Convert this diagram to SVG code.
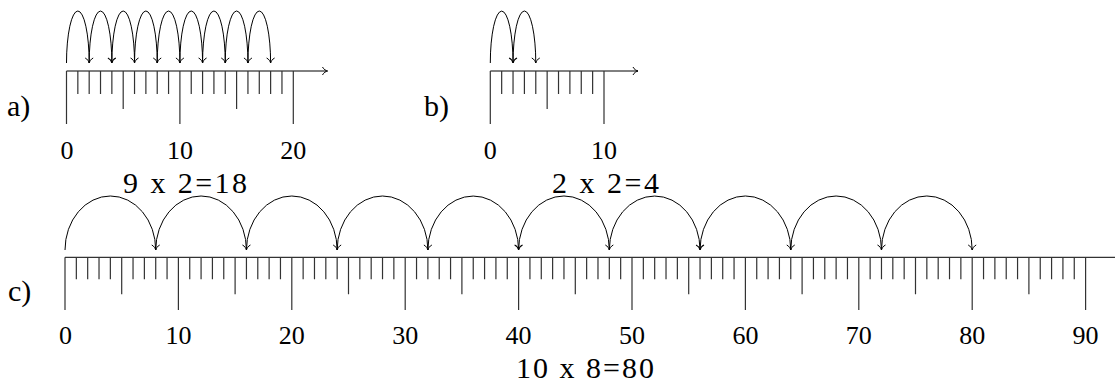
<svg xmlns="http://www.w3.org/2000/svg" width="1115" height="382" viewBox="0 0 1115 382">
<style>
.ax{fill:none;stroke:#000;stroke-width:1}
.tk{fill:none;stroke:#333;stroke-width:1.2}
.arc{fill:none;stroke:#000;stroke-width:1;marker-end:url(#ah)}
.lbl{font-family:"Liberation Serif","DejaVu Serif",serif;font-size:30px;fill:#000}
.num{font-family:"Liberation Serif","DejaVu Serif",serif;font-size:26px;fill:#000;text-anchor:middle}
.cap{font-family:"Liberation Serif","DejaVu Serif",serif;font-size:30px;fill:#000}
</style>
<defs>
<marker id="ah" markerUnits="userSpaceOnUse" markerWidth="12" markerHeight="12" viewBox="-6 -6 12 12" refX="0" refY="0" orient="auto" overflow="visible">
<path d="M-5,-4 C-4,-1.6 -1.2,-0.3 0,0 C-1.2,0.3 -4,1.6 -5,4" fill="none" stroke="#000" stroke-width="1"/>
</marker>
</defs>
<rect width="1115" height="382" fill="#fff"/>

<g id="part-a">
<path class="ax" d="M66.5 71 H327.5" marker-end="url(#ah)"/>
<path class="tk" d="M77.84 71V94M89.18 71V94M100.52 71V94M111.86 71V94M134.54 71V94M145.88 71V94M157.22 71V94M168.56 71V94M191.24 71V94M202.58 71V94M213.92 71V94M225.26 71V94M247.94 71V94M259.28 71V94M270.62 71V94M281.96 71V94"/>
<path class="tk" d="M123.2 71V109M236.6 71V109"/>
<path class="tk" d="M66.5 71V124M179.9 71V124M293.3 71V124"/>
<text class="lbl" x="7" y="116">a)</text>
<text class="num" x="67" y="159">0</text>
<text class="num" x="180" y="159">10</text>
<text class="num" x="293.3" y="159">20</text>
<text class="cap" x="123" y="193" textLength="124" lengthAdjust="spacing">9 x 2=18</text>
</g>

<g id="part-b">
<path class="ax" d="M490.3 71 H638" marker-end="url(#ah)"/>
<path class="tk" d="M501.67 71V94M513.04 71V94M524.41 71V94M535.78 71V94M558.52 71V94M569.89 71V94M581.26 71V94M592.63 71V94"/>
<path class="tk" d="M547.15 71V109"/>
<path class="tk" d="M490.3 71V124M604 71V124"/>
<text class="lbl" x="424" y="116">b)</text>
<text class="num" x="490.3" y="159">0</text>
<text class="num" x="604" y="159">10</text>
<text class="cap" x="552" y="193" textLength="107" lengthAdjust="spacing">2 x 2=4</text>
</g>

<g id="part-c">
<path class="ax" d="M65 257.3 H1115"/>
<path class="tk" d="M76.34 257.3V279.3M87.68 257.3V279.3M99.02 257.3V279.3M110.36 257.3V279.3M133.04 257.3V279.3M144.38 257.3V279.3M155.72 257.3V279.3M167.06 257.3V279.3M189.74 257.3V279.3M201.08 257.3V279.3M212.42 257.3V279.3M223.76 257.3V279.3M246.44 257.3V279.3M257.78 257.3V279.3M269.12 257.3V279.3M280.46 257.3V279.3M303.14 257.3V279.3M314.48 257.3V279.3M325.82 257.3V279.3M337.16 257.3V279.3M359.84 257.3V279.3M371.18 257.3V279.3M382.52 257.3V279.3M393.86 257.3V279.3M416.54 257.3V279.3M427.88 257.3V279.3M439.22 257.3V279.3M450.56 257.3V279.3M473.24 257.3V279.3M484.58 257.3V279.3M495.92 257.3V279.3M507.26 257.3V279.3M529.94 257.3V279.3M541.28 257.3V279.3M552.62 257.3V279.3M563.96 257.3V279.3M586.64 257.3V279.3M597.98 257.3V279.3M609.32 257.3V279.3M620.66 257.3V279.3M643.34 257.3V279.3M654.68 257.3V279.3M666.02 257.3V279.3M677.36 257.3V279.3M700.04 257.3V279.3M711.38 257.3V279.3M722.72 257.3V279.3M734.06 257.3V279.3M756.74 257.3V279.3M768.08 257.3V279.3M779.42 257.3V279.3M790.76 257.3V279.3M813.44 257.3V279.3M824.78 257.3V279.3M836.12 257.3V279.3M847.46 257.3V279.3M870.14 257.3V279.3M881.48 257.3V279.3M892.82 257.3V279.3M904.16 257.3V279.3M926.84 257.3V279.3M938.18 257.3V279.3M949.52 257.3V279.3M960.86 257.3V279.3M983.54 257.3V279.3M994.88 257.3V279.3M1006.22 257.3V279.3M1017.56 257.3V279.3M1040.24 257.3V279.3M1051.58 257.3V279.3M1062.92 257.3V279.3M1074.26 257.3V279.3"/>
<path class="tk" d="M121.7 257.3V294.3M235.1 257.3V294.3M348.5 257.3V294.3M461.9 257.3V294.3M575.3 257.3V294.3M688.7 257.3V294.3M802.1 257.3V294.3M915.5 257.3V294.3M1028.9 257.3V294.3"/>
<path class="tk" d="M65 257.3V310M178.4 257.3V310M291.8 257.3V310M405.2 257.3V310M518.6 257.3V310M632 257.3V310M745.4 257.3V310M858.8 257.3V310M972.2 257.3V310M1085.6 257.3V310"/>
<text class="lbl" x="8" y="301">c)</text>
<text class="num" x="65.5" y="344">0</text>
<text class="num" x="178.4" y="344">10</text>
<text class="num" x="291.8" y="344">20</text>
<text class="num" x="405.2" y="344">30</text>
<text class="num" x="518.6" y="344">40</text>
<text class="num" x="632" y="344">50</text>
<text class="num" x="745.4" y="344">60</text>
<text class="num" x="858.8" y="344">70</text>
<text class="num" x="972.2" y="344">80</text>
<text class="num" x="1085.6" y="344">90</text>
<text class="cap" x="516" y="378" textLength="138" lengthAdjust="spacing">10 x 8=80</text>
</g>

<g id="connectors">
<path class="arc" d="M66.5 63A11.34 52 0 0 1 89.18 63"/>
<path class="arc" d="M89.18 63A11.34 52 0 0 1 111.86 63"/>
<path class="arc" d="M111.86 63A11.34 52 0 0 1 134.54 63"/>
<path class="arc" d="M134.54 63A11.34 52 0 0 1 157.22 63"/>
<path class="arc" d="M157.22 63A11.34 52 0 0 1 179.9 63"/>
<path class="arc" d="M179.9 63A11.34 52 0 0 1 202.58 63"/>
<path class="arc" d="M202.58 63A11.34 52 0 0 1 225.26 63"/>
<path class="arc" d="M225.26 63A11.34 52 0 0 1 247.94 63"/>
<path class="arc" d="M247.94 63A11.34 52 0 0 1 270.62 63"/>
<path class="arc" d="M490.3 63A11.37 52 0 0 1 513.04 63"/>
<path class="arc" d="M513.04 63A11.37 52 0 0 1 535.78 63"/>
<path class="arc" d="M65 250A45.36 54 0 0 1 155.72 250"/>
<path class="arc" d="M155.72 250A45.36 54 0 0 1 246.44 250"/>
<path class="arc" d="M246.44 250A45.36 54 0 0 1 337.16 250"/>
<path class="arc" d="M337.16 250A45.36 54 0 0 1 427.88 250"/>
<path class="arc" d="M427.88 250A45.36 54 0 0 1 518.6 250"/>
<path class="arc" d="M518.6 250A45.36 54 0 0 1 609.32 250"/>
<path class="arc" d="M609.32 250A45.36 54 0 0 1 700.04 250"/>
<path class="arc" d="M700.04 250A45.36 54 0 0 1 790.76 250"/>
<path class="arc" d="M790.76 250A45.36 54 0 0 1 881.48 250"/>
<path class="arc" d="M881.48 250A45.36 54 0 0 1 972.2 250"/>
</g>
</svg>
